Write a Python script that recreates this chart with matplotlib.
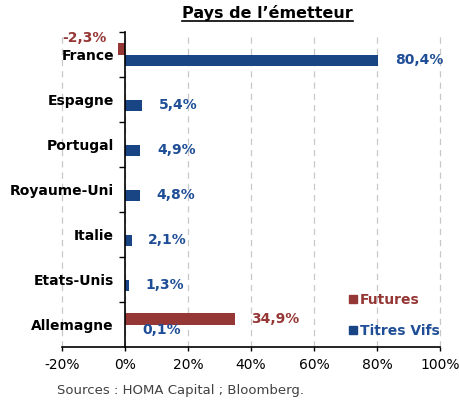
import numpy as np
import matplotlib
matplotlib.use('Agg')
import matplotlib.pyplot as plt
from matplotlib.lines import Line2D

categories = ['France', 'Espagne', 'Portugal', 'Royaume-Uni', 'Italie', 'Etats-Unis', 'Allemagne']
futures = [-2.3, 0, 0, 0, 0, 0, 34.9]
titres_vifs = [80.4, 5.4, 4.9, 4.8, 2.1, 1.3, 0.1]
x_ticks = [-20, 0, 20, 40, 60, 80, 100]

red = '#953735'
blue = '#1a4585'
blue_txt = '#1f4e96'

def fmt(v):
    return ('%.1f%%' % v).replace('.', ',')

fig = plt.figure(figsize=(4.6, 4.03), dpi=100)
ax = fig.add_axes([62/460, 1-347/403, 378/460, 315/403])

y = np.arange(len(categories))
h = 0.26
ax.barh(y - h/2, futures, height=h, color=red, linewidth=0)
ax.barh(y + h/2, titres_vifs, height=h, color=blue, linewidth=0)

for i, v in enumerate(titres_vifs):
    ax.annotate(fmt(v), (v, y[i] + h/2), xytext=(12, 0), textcoords='offset points',
                ha='left', va='center', fontsize=10, fontweight='bold', color=blue_txt)
for i, v in enumerate(futures):
    if v == 0:
        continue
    if v > 0:
        ax.annotate(fmt(v), (v, y[i] - h/2), xytext=(12, 0), textcoords='offset points',
                    ha='left', va='center', fontsize=10, fontweight='bold', color=red)
    else:
        ax.annotate(fmt(v), (v, y[i] - h/2), xytext=(-8, 8), textcoords='offset points',
                    ha='right', va='center', fontsize=10, fontweight='bold', color=red)

ax.set_xlim(-20, 100)
ax.set_ylim(len(categories) - 0.5, -0.5)
ax.set_xticks(x_ticks)
ax.set_xticklabels(['%d%%' % t for t in x_ticks], fontsize=10)
ax.set_yticks(y)
ax.set_yticklabels(categories, fontsize=9.5)
ax.set_yticks(np.arange(len(categories)) - 0.5, minor=True)
ax.tick_params(axis='y', which='major', length=0, pad=8)
ax.tick_params(axis='y', which='minor', length=4, width=1, direction='out')
ax.tick_params(axis='x', length=3, width=1, pad=5, colors='black')

ax.spines['left'].set_position(('data', 0))
ax.spines['top'].set_visible(False)
ax.spines['right'].set_visible(False)
ax.spines['bottom'].set_linewidth(1.2)
ax.spines['left'].set_linewidth(1.2)
ax.xaxis.grid(True, linestyle=(0, (5, 4)), color='#c8c8c8', linewidth=0.9)
ax.set_axisbelow(True)

handles = [Line2D([], [], marker='s', linestyle='none', markersize=6, color=red),
           Line2D([], [], marker='s', linestyle='none', markersize=6, color=blue)]
leg = ax.legend(handles, ['Futures', 'Titres Vifs'], loc='lower right', bbox_to_anchor=(1.0, 0.03),
                frameon=False, handlelength=0.6, handletextpad=0.2, labelspacing=1.2,
                borderpad=0, borderaxespad=0, prop={'size': 10, 'weight': 'bold'})
for t, c in zip(leg.get_texts(), [red, blue_txt]):
    t.set_color(c)

title = fig.text(0.582, 1-18/403, "Pays de l\u2019émetteur", ha='center', va='baseline',
                 fontsize=11.5, fontweight='bold')
fig.canvas.draw()
for lbl in ax.get_yticklabels():
    lbl.set_fontweight('bold')
for gl in ax.xaxis.get_gridlines():
    gl.set_clip_on(False)
bb = title.get_window_extent().transformed(fig.transFigure.inverted())
fig.add_artist(Line2D([bb.x0, bb.x1], [1-20.5/403] * 2, color='black', linewidth=1.2,
                      transform=fig.transFigure))

fig.text(57/460, 1-394/403, 'Sources : HOMA Capital ; Bloomberg.', ha='left', va='baseline',
         fontsize=9.5, color='#404040')

fig.savefig('out.png', dpi=100)
